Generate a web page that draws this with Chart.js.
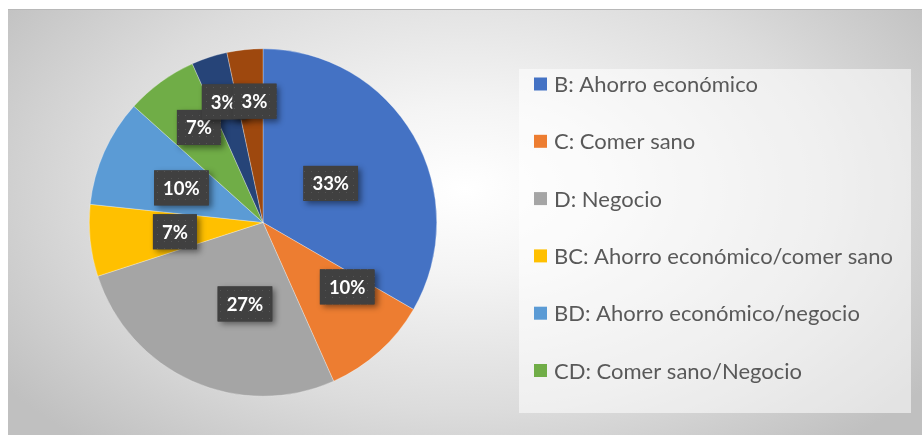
<!DOCTYPE html>
<html>
<head>
<meta charset="utf-8">
<script src="https://cdn.jsdelivr.net/npm/chart.js@4"></script>
<style>
    body { margin: 0; background: #ffffff; }
    #frame {
        position: absolute; left: 8px; top: 9px; width: 914px; height: 426px;
        border-top: 1px solid #b8b8b8;
        background: radial-gradient(ellipse 62% 80% at 50% 42%, #ffffff 0%, #f4f4f4 25%, #dcdcdc 65%, #c0c0c0 100%);
    }
    #pie_chart { position: absolute; left: 0; top: 0; }
</style>
</head>
<body>
<div id="frame"></div>
<canvas id="pie_chart" width="922" height="435"></canvas>
<script>
// slices, clockwise from 12 o'clock
const categories = [
    "B: Ahorro económico",
    "C: Comer sano",
    "D: Negocio",
    "BC: Ahorro económico/comer sano",
    "BD: Ahorro económico/negocio",
    "CD: Comer sano/Negocio",
    "BCD: Ahorro económico/comer sano/negocio",
    "Ninguno"
];
const counts = [10, 3, 8, 2, 3, 2, 1, 1];
const percent_labels = ["33%", "10%", "27%", "7%", "10%", "7%", "3%", "3%"];
const colors = ["#4472C4", "#ED7D31", "#A5A5A5", "#FFC000", "#5B9BD5", "#70AD47", "#264478", "#9E480E"];
const legend_count = 6; // only six entries fit in the legend box

// label placement: fraction of radius, angle shift in degrees
const label_radius = [0.45, 0.61, 0.48, 0.51, 0.51, 0.66, 0.73, 0.70];
const label_shift = [0, -10.6, -11.5, 0, -1, 2, 0, 2];

function make_dot_pattern(ctx) {
    let c = document.createElement("canvas");
    c.width = 7;
    c.height = 7;
    let g = c.getContext("2d");
    g.fillStyle = "#404040";
    g.fillRect(0, 0, 7, 7);
    g.fillStyle = "#555555";
    g.fillRect(3, 3, 1, 1);
    return ctx.createPattern(c, "repeat");
}

const labelBoxes = {
    id: "labelBoxes",
    afterDatasetsDraw(chart) {
        let ctx = chart.ctx;
        let meta = chart.getDatasetMeta(0);
        let pattern = make_dot_pattern(ctx);
        ctx.save();
        ctx.font = "bold 18.5px Lato";
        ctx.textAlign = "center";
        ctx.textBaseline = "middle";
        meta.data.forEach((arc, i) => {
            let a = (arc.startAngle + arc.endAngle) / 2 + label_shift[i] * Math.PI / 180;
            let r = arc.outerRadius * label_radius[i];
            let x = arc.x + Math.cos(a) * r;
            let y = arc.y + Math.sin(a) * r;
            let text = percent_labels[i];
            let w = ctx.measureText(text).width + 18;
            let h = 35;
            ctx.save();
            ctx.shadowColor = "rgba(0,0,0,0.45)";
            ctx.shadowBlur = 6;
            ctx.shadowOffsetX = 3;
            ctx.shadowOffsetY = 3;
            ctx.fillStyle = "#404040";
            ctx.fillRect(x - w / 2, y - h / 2, w, h);
            ctx.restore();
            ctx.fillStyle = pattern;
            ctx.fillRect(x - w / 2, y - h / 2, w, h);
            ctx.fillStyle = "#ffffff";
            ctx.fillText(text, x, y + 1);
        });
        ctx.restore();
    }
};

const boxLegend = {
    id: "boxLegend",
    afterDraw(chart) {
        let ctx = chart.ctx;
        ctx.save();
        ctx.fillStyle = "rgba(255,255,255,0.55)";
        ctx.fillRect(519, 69, 392, 344);
        ctx.font = "22px Lato";
        ctx.textBaseline = "middle";
        for (let i = 0; i < legend_count; i++) {
            let y = 84 + i * 57.3;
            ctx.fillStyle = colors[i];
            ctx.fillRect(534, y - 6.5, 13, 13);
            ctx.fillStyle = "#595959";
            ctx.fillText(categories[i], 554, y + 1);
        }
        ctx.restore();
    }
};

var pieChart = new Chart(
    document.getElementById("pie_chart"),
    {
        type: "pie",
        data: {
            labels: categories,
            datasets: [
                {
                    data: counts,
                    backgroundColor: colors,
                    borderColor: "rgba(255,255,255,0.6)",
                    borderWidth: 0.5,
                }
            ]
        },
        options: {
            responsive: false,
            animation: false,
            layout: {
                padding: { left: 89, right: 485, top: 48, bottom: 38 }
            },
            plugins: {
                legend: { display: false },
                tooltip: { enabled: false },
            }
        },
        plugins: [labelBoxes, boxLegend]
    }
);
</script>
</body>
</html>
